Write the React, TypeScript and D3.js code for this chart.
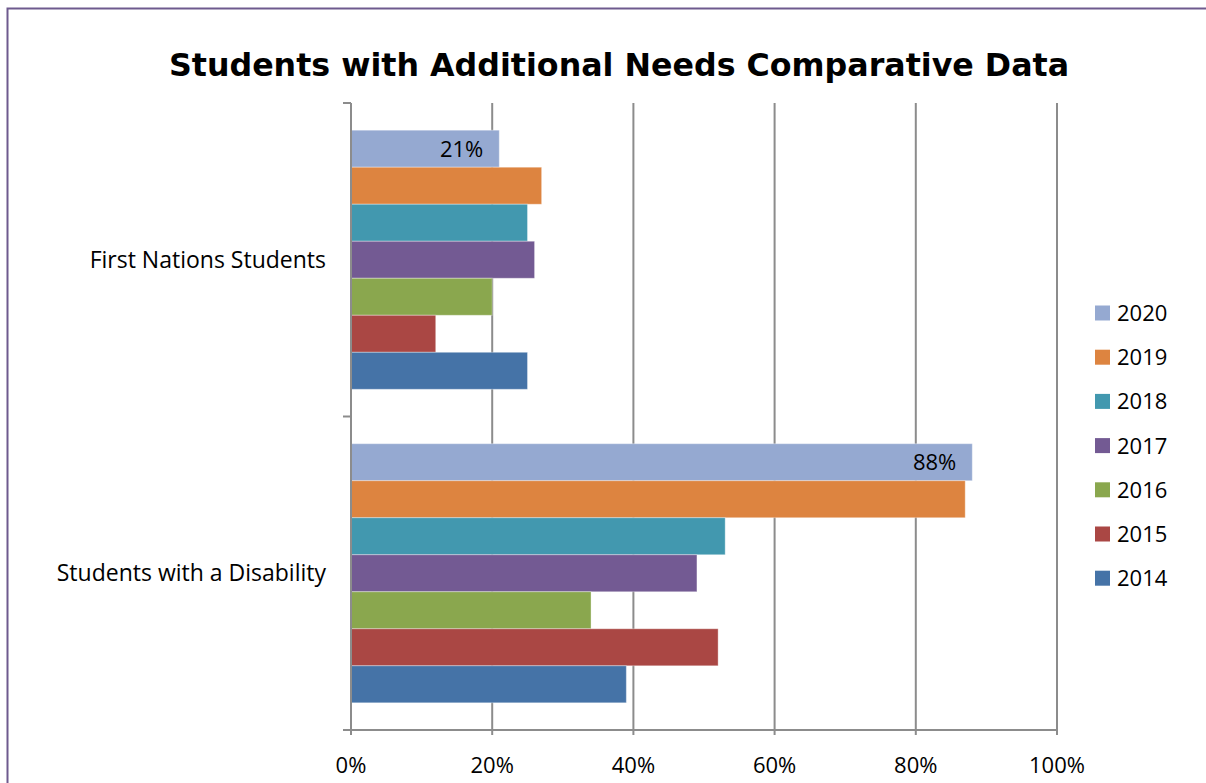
import React from "react";
import * as d3 from "d3";

const categories = ["First Nations Students", "Students with a Disability"];
const years = ["2020", "2019", "2018", "2017", "2016", "2015", "2014"];
const firstNations = [0.21, 0.27, 0.25, 0.26, 0.2, 0.12, 0.25];
const disability = [0.88, 0.87, 0.53, 0.49, 0.34, 0.52, 0.39];
const yearColors = ["#95A9D1", "#DD8440", "#4298AF", "#735A93", "#8AA74E", "#AA4744", "#4573A7"];
const xTicks = [0, 0.2, 0.4, 0.6, 0.8, 1.0];
const labelledYear = "2020";

const seriesByCategory = [firstNations, disability];

export default function App() {
  const W = 1206;
  const H = 783;
  const x = d3.scaleLinear().domain([0, 1]).range([351, 1057]);
  const y = d3.scaleBand().domain(categories).range([103, 730]).padding(0);
  const yInner = d3
    .scaleBand()
    .domain(years)
    .range([0, y.bandwidth()])
    .paddingInner(0)
    .paddingOuter(0.735);
  const bodyFont = "'Open Sans', Lato, sans-serif";
  const gridColor = "#8c8c8c";
  const pct = d3.format(".0%");

  return (
    <svg
      width={W}
      height={H}
      style={{ position: "absolute", left: 0, top: 0, display: "block", background: "#fff" }}
    >
      {/* chart border */}
      <rect x={7.5} y={8.5} width={1300} height={900} fill="none" stroke="#6E5A8E" strokeWidth={2} />

      <text
        x={619}
        y={76}
        textAnchor="middle"
        fontFamily="'DejaVu Sans', Verdana, sans-serif"
        fontWeight="bold"
        fontSize={31.7}
        fill="#000"
      >
        Students with Additional Needs Comparative Data
      </text>

      {/* vertical grid lines */}
      {xTicks.map((t) => (
        <line key={"g" + t} x1={x(t)} x2={x(t)} y1={103} y2={735} stroke={gridColor} strokeWidth={2} />
      ))}

      {/* bars */}
      {categories.map((c, ci) =>
        years.map((yr, yi) => {
          const v = seriesByCategory[ci][yi];
          const by = (y(c) as number) + (yInner(yr) as number);
          return (
            <rect
              key={c + yr}
              x={x(0)}
              y={by}
              width={x(v) - x(0)}
              height={yInner.bandwidth()}
              fill={yearColors[yi]}
              stroke="#ffffff"
              strokeOpacity={0.35}
              strokeWidth={1}
            />
          );
        })
      )}

      {/* data labels */}
      {categories.map((c, ci) => {
        const yi = years.indexOf(labelledYear);
        const v = seriesByCategory[ci][yi];
        const by = (y(c) as number) + (yInner(labelledYear) as number);
        return (
          <text
            key={"lbl" + c}
            x={x(v) - 16}
            y={by + yInner.bandwidth() / 2 + 8}
            textAnchor="end"
            fontFamily={bodyFont}
            fontSize={22}
            fill="#000"
          >
            {pct(v)}
          </text>
        );
      })}

      {/* y axis */}
      <line x1={x(0)} x2={x(0)} y1={103} y2={730} stroke={gridColor} strokeWidth={2} />
      {[...categories.map((c) => y(c) as number), 730].map((ty, i) => (
        <line key={"yt" + i} x1={343} x2={x(0)} y1={ty} y2={ty} stroke={gridColor} strokeWidth={2} />
      ))}
      {categories.map((c) => (
        <text
          key={"cl" + c}
          x={326}
          y={(y(c) as number) + y.bandwidth() / 2 + 8}
          textAnchor="end"
          fontFamily={bodyFont}
          fontSize={23}
          fill="#000"
        >
          {c}
        </text>
      ))}

      {/* x axis */}
      <line x1={343} x2={x(1)} y1={730} y2={730} stroke={gridColor} strokeWidth={2} />
      {xTicks.map((t) => (
        <text
          key={"xl" + t}
          x={x(t)}
          y={773}
          textAnchor="middle"
          fontFamily={bodyFont}
          fontSize={22}
          fill="#000"
        >
          {pct(t)}
        </text>
      ))}

      {/* legend */}
      {years.map((yr, i) => (
        <g key={"lg" + yr} transform={`translate(1095, ${313 + i * 44.2})`}>
          <rect x={0} y={-7.5} width={15} height={15} fill={yearColors[i]} />
          <text x={22} y={8} fontFamily={bodyFont} fontSize={22} fill="#000">
            {yr}
          </text>
        </g>
      ))}
    </svg>
  );
}
